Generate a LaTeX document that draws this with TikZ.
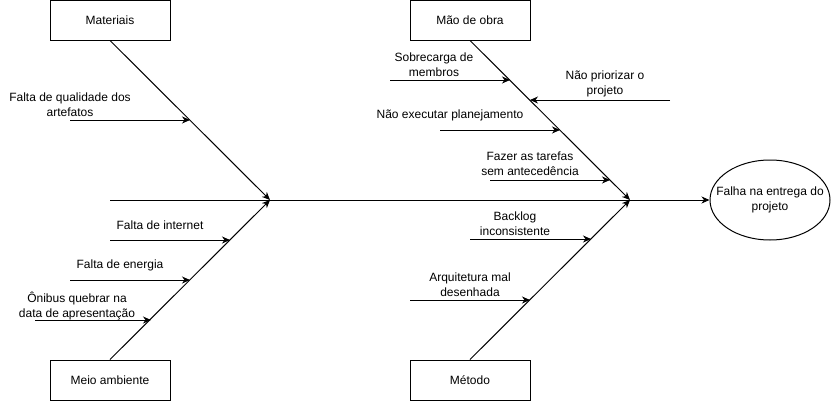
\documentclass[tikz,border=0pt]{standalone}
\usepackage{fontspec}
\setmainfont{Liberation Sans}
\usetikzlibrary{arrows.meta, shapes.geometric}

\tikzset{
    every node/.style={font=\fontsize{12}{15}\selectfont, align=center, inner sep=0pt},
    causebox/.style={draw, line width=1pt, minimum width=120pt, minimum height=40pt},
    effect/.style={draw, ellipse, line width=1pt, minimum width=120pt, minimum height=80pt},
    bone/.style={line width=1pt, -{Stealth[length=8pt,width=7pt,inset=2.5pt]}},
}

\begin{document}
\begin{tikzpicture}[x=1pt, y=-1pt]
    \useasboundingbox (0,0) rectangle (831,402);

    \node[causebox] at (110,20)   (mat)   {Materiais};
    \node[causebox] at (470,20)   (mao)   {Mão de obra};
    \node[causebox] at (110,380)  (meio)  {Meio ambiente};
    \node[causebox] at (470,380)  (met)   {Método};
    \node[effect]   at (770,200)  (falha) {};
    \node at (falha) {Falha na entrega do\\projeto};

    \coordinate (spine) at (110,200);
    \coordinate (j1) at (270,200);
    \coordinate (j2) at (630,200);

    \node at (70,105)   (qual)   {Falta de qualidade dos\\artefatos};
    \node at (160,225)  (inet)   {Falta de internet};
    \node at (120,265)  (ener)   {Falta de energia};
    \node at (77,306)   (onib)   {Ônibus quebrar na\\data de apresentação};
    \node at (434,65)   (sobr)   {Sobrecarga de\\membros};
    \node at (605,84)   (prio)   {Não priorizar o\\projeto};
    \node at (450,115)  (exec)   {Não executar planejamento};
    \node at (530,164)  (faz)    {Fazer as tarefas\\sem antecedência};
    \node at (515,224)  (back)   {Backlog\\inconsistente};
    \node at (470,285)  (arq)    {Arquitetura mal\\desenhada};

    \coordinate (qual-a) at (70,120);   \coordinate (qual-b) at (190,120);
    \coordinate (inet-a) at (110,240);  \coordinate (inet-b) at (230,240);
    \coordinate (ener-a) at (70,280);   \coordinate (ener-b) at (190,280);
    \coordinate (onib-a) at (35,320);   \coordinate (onib-b) at (151,320);
    \coordinate (sobr-a) at (390,80);   \coordinate (sobr-b) at (510,80);
    \coordinate (prio-a) at (670,100);  \coordinate (prio-b) at (530,100);
    \coordinate (exec-a) at (440,130);  \coordinate (exec-b) at (560,130);
    \coordinate (faz-a)  at (490,180);  \coordinate (faz-b)  at (610,180);
    \coordinate (back-a) at (470,239);  \coordinate (back-b) at (591,239);
    \coordinate (arq-a)  at (410,300);  \coordinate (arq-b)  at (530,300);

    \draw[bone] (spine) -- (falha.west);
    \draw[bone] (mat.south) -- (j1);
    \draw[bone] (meio.north) -- (j1);
    \draw[bone] (mao.south) -- (j2);
    \draw[bone] (met.north) -- (j2);

    \draw[bone] (qual-a) -- (qual-b);
    \draw[bone] (inet-a) -- (inet-b);
    \draw[bone] (ener-a) -- (ener-b);
    \draw[bone] (onib-a) -- (onib-b);
    \draw[bone] (sobr-a) -- (sobr-b);
    \draw[bone] (prio-a) -- (prio-b);
    \draw[bone] (exec-a) -- (exec-b);
    \draw[bone] (faz-a)  -- (faz-b);
    \draw[bone] (back-a) -- (back-b);
    \draw[bone] (arq-a)  -- (arq-b);
\end{tikzpicture}
\end{document}
